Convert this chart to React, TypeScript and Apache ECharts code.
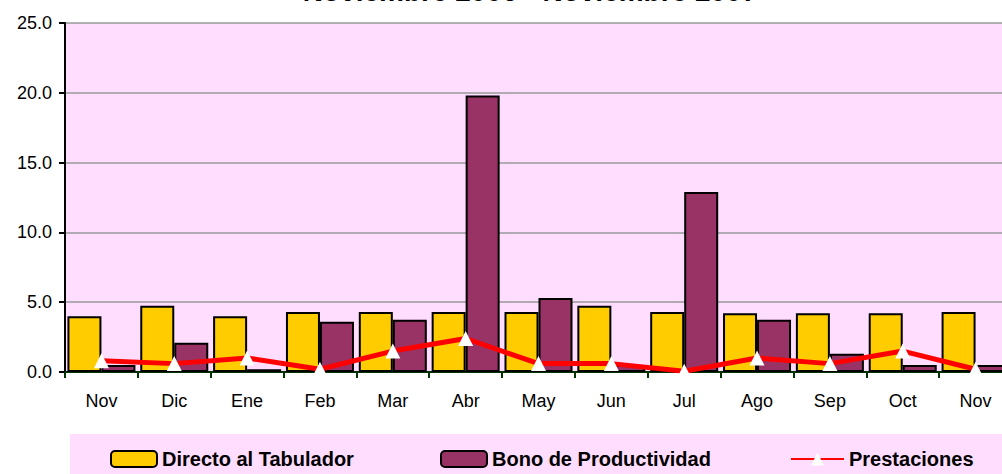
import React, { useEffect, useRef } from "react";
import * as echarts from "echarts";

const titleText = "Noviembre 2006 - Noviembre 2007";
const months = ["Nov", "Dic", "Ene", "Feb", "Mar", "Abr", "May", "Jun", "Jul", "Ago", "Sep", "Oct", "Nov"];
const directo = [4.0, 4.75, 4.0, 4.3, 4.3, 4.3, 4.3, 4.75, 4.3, 4.2, 4.2, 4.2, 4.3];
const bono = [0.5, 2.1, 0.2, 3.6, 3.75, 19.8, 5.3, 0.5, 12.9, 3.75, 1.3, 0.5, 0.5];
const prestaciones = [0.8, 0.6, 1.0, 0.2, 1.5, 2.4, 0.6, 0.6, 0.05, 1.0, 0.6, 1.5, 0.2];
const seriesNames = ["Directo al Tabulador", "Bono de Productividad", "Prestaciones"];

const FONT = "Liberation Sans, Arial, sans-serif";
const PINK = "#FFDDFF";

export default function App() {
  const ref = useRef<HTMLDivElement>(null);
  useEffect(() => {
    if (!ref.current) return;
    const chart = echarts.init(ref.current, null, { renderer: "svg" });
    const legendText = { fontFamily: FONT, fontSize: 20, fontWeight: "bold" as const, color: "#000" };
    chart.setOption({
      animation: false,
      backgroundColor: "#fff",
      title: {
        text: titleText,
        left: 525,
        textAlign: "center",
        top: -28,
        textStyle: { fontFamily: FONT, fontSize: 28, fontWeight: "bold", color: "#000" },
      },
      graphic: [
        {
          type: "rect",
          shape: { x: 70, y: 434, width: 940, height: 45 },
          style: { fill: PINK },
          z: -1,
        },
      ],
      grid: {
        left: 65,
        right: -10,
        top: 23,
        bottom: 102,
        outerBoundsMode: "none",
        containLabel: false,
        show: true,
        backgroundColor: PINK,
        borderWidth: 0,
      },
      legend: [
        {
          data: [seriesNames[0]],
          left: 110,
          top: 449,
          padding: 0,
          itemWidth: 46,
          itemHeight: 16,
          textStyle: legendText,
        },
        {
          data: [seriesNames[1]],
          left: 440,
          top: 449,
          padding: 0,
          itemWidth: 46,
          itemHeight: 16,
          textStyle: legendText,
        },
        {
          data: [seriesNames[2]],
          left: 790,
          top: 449,
          padding: 0,
          itemWidth: 53,
          itemHeight: 16,
          textStyle: legendText,
        },
      ],
      xAxis: {
        type: "category",
        data: months,
        boundaryGap: true,
        axisLine: { lineStyle: { color: "#003300", width: 2 } },
        axisTick: { show: true, length: 6, lineStyle: { color: "#003300", width: 2 } },
        axisLabel: { fontFamily: FONT, fontSize: 18, color: "#000", margin: 20 },
      },
      yAxis: {
        type: "value",
        min: 0,
        max: 25,
        interval: 5,
        axisLine: { show: true, lineStyle: { color: "#000", width: 2 } },
        axisTick: { show: true, length: 6, lineStyle: { color: "#000", width: 2 } },
        axisLabel: {
          fontFamily: FONT,
          fontSize: 18,
          color: "#000",
          margin: 13,
          formatter: (v: number) => v.toFixed(1),
        },
        splitLine: { lineStyle: { color: "#999", width: 1.5 } },
      },
      series: [
        {
          name: seriesNames[0],
          type: "bar",
          data: directo,
          barWidth: 34,
          barGap: "0%",
          itemStyle: { color: "#FFCC00", borderColor: "#000", borderWidth: 2 },
        },
        {
          name: seriesNames[1],
          type: "bar",
          data: bono,
          barWidth: 34,
          barGap: "0%",
          itemStyle: { color: "#993366", borderColor: "#000", borderWidth: 2 },
        },
        {
          name: seriesNames[2],
          type: "line",
          data: prestaciones,
          symbol: "triangle",
          symbolSize: 15,
          lineStyle: { color: "#FF0000", width: 5 },
          itemStyle: { color: "#FFFFFF", borderWidth: 0 },
          z: 5,
        },
      ],
    });
    return () => chart.dispose();
  }, []);
  return (
    <div
      ref={ref}
      style={{ position: "fixed", left: 0, top: 0, width: 1002, height: 474 }}
    />
  );
}
